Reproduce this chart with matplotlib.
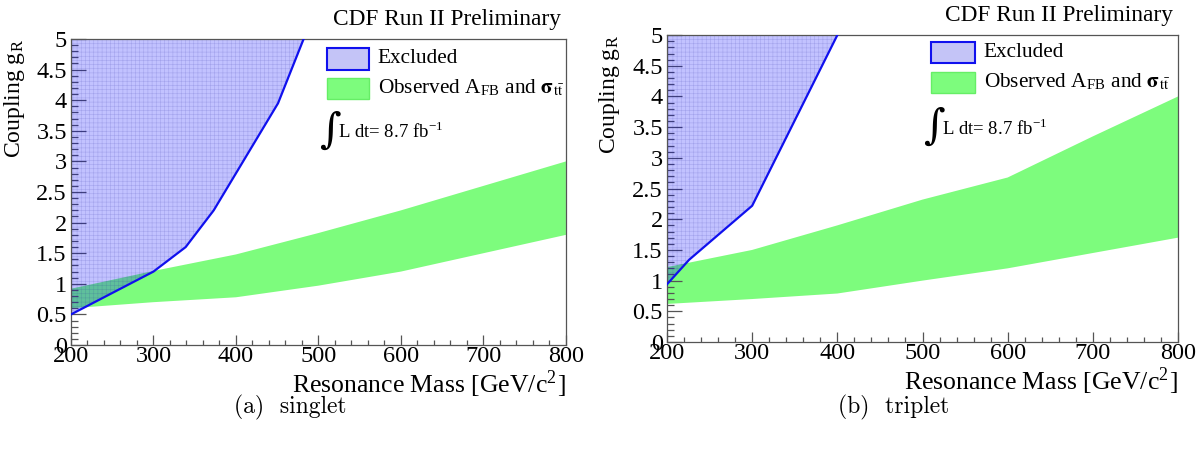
import matplotlib
matplotlib.use("Agg")
import matplotlib.pyplot as plt
from matplotlib.patches import Rectangle
from matplotlib.ticker import MultipleLocator

plt.rcParams["font.family"] = ["Liberation Serif", "DejaVu Serif"]
plt.rcParams["mathtext.fontset"] = "stix"
plt.rcParams["hatch.linewidth"] = 0.4

# singlet
s_excl_mass = [200, 300, 339, 373, 451, 482]
s_excl_g = [0.5, 1.2, 1.6, 2.2, 3.95, 5.0]
s_band_mass = [200, 300, 400, 500, 600, 700, 800]
s_band_hi = [0.92, 1.21, 1.48, 1.83, 2.2, 2.6, 3.0]
s_band_lo = [0.6, 0.7, 0.78, 0.97, 1.2, 1.5, 1.8]

# triplet
t_excl_mass = [200, 226, 300, 400]
t_excl_g = [0.94, 1.34, 2.22, 5.0]
t_band_mass = [200, 300, 400, 500, 600, 700, 800]
t_band_hi = [1.22, 1.5, 1.9, 2.32, 2.68, 3.35, 4.0]
t_band_lo = [0.62, 0.7, 0.79, 1.0, 1.2, 1.45, 1.7]

xtick_vals = [200, 300, 400, 500, 600, 700, 800]
ytick_vals = [0, 0.5, 1, 1.5, 2, 2.5, 3, 3.5, 4, 4.5, 5]
ytick_labels = ["0", "0.5", "1", "1.5", "2", "2.5", "3", "3.5", "4", "4.5", "5"]

GREEN = "#7dfc7d"
BLUE_FILL = "#c4c4f7"
FRAME = "#555555"

fig = plt.figure(figsize=(11.99, 4.5), dpi=100)

panels = [
    ([0.0592, 0.2333, 0.4128, 0.68], s_excl_mass, s_excl_g, s_band_mass, s_band_hi, s_band_lo,
     "(a)  singlet", 0.242, (0.517, 0.90), (0.517, 0.804), 0.620, 0.70),
    ([0.5563, 0.24, 0.4262, 0.682], t_excl_mass, t_excl_g, t_band_mass, t_band_hi, t_band_lo,
     "(b)  triplet", 0.745, (0.517, 0.909), (0.517, 0.811), 0.620, 0.70),
]

for (rect, em, eg, bm, bhi, blo, caption, cap_x, leg1, leg2, txt_x, int_y) in panels:
    ax = fig.add_axes(rect)

    ax.fill_between(bm, blo, bhi, facecolor=GREEN, edgecolor="none", zorder=1)
    ax.fill_between(em, eg, 5, facecolor=(0, 0, 1, 0.24), edgecolor=(0.1, 0.1, 0.6, 0.18),
                    hatch="++++", linewidth=0, zorder=2)
    ax.plot(em, eg, color="#1010ee", lw=1.6, zorder=3)

    ax.set_xlim(200, 800)
    ax.set_ylim(0, 5)
    ax.set_xticks(xtick_vals)
    ax.set_xticklabels([str(v) for v in xtick_vals])
    ax.set_yticks(ytick_vals)
    ax.set_yticklabels(ytick_labels)
    ax.xaxis.set_minor_locator(MultipleLocator(20))
    ax.yaxis.set_minor_locator(MultipleLocator(0.1))
    ax.tick_params(axis="x", which="major", direction="in", length=7, width=0.9,
                   color=FRAME, labelsize=17.5, pad=1)
    ax.tick_params(axis="x", which="minor", direction="in", length=3.5, width=0.9, color=FRAME)
    ax.tick_params(axis="y", which="major", direction="in", length=11, width=0.9,
                   color=FRAME, labelsize=17.5, pad=3)
    ax.tick_params(axis="y", which="minor", direction="in", length=5, width=0.9, color=FRAME)
    for sp in ax.spines.values():
        sp.set_color(FRAME)
        sp.set_linewidth(0.9)

    ax.set_xlabel("Resonance Mass [GeV/c$^{\\mathregular{2}}$]", fontsize=18.5, loc="right")
    ax.xaxis.set_label_coords(1.0, -0.075)
    ax.set_ylabel("Coupling g$_{\\mathregular{R}}$", fontsize=17, loc="top")
    ax.yaxis.set_label_coords(-0.088, 1.0)

    ax.text(0.99, 1.03, "CDF Run II Preliminary", transform=ax.transAxes,
            ha="right", va="bottom", fontsize=16.8)

    # legend
    w = 0.085
    ax.add_patch(Rectangle(leg1, w, 0.07, transform=ax.transAxes, facecolor=BLUE_FILL,
                           edgecolor="#1010ee", lw=1.5, clip_on=False, zorder=5))
    ax.add_patch(Rectangle(leg2, w, 0.07, transform=ax.transAxes, facecolor=GREEN,
                           edgecolor="#66ee66", lw=1.0, clip_on=False, zorder=5))
    ax.text(txt_x, leg1[1] + 0.035, "Excluded", transform=ax.transAxes,
            ha="left", va="center", fontsize=15.3)
    ax.text(txt_x, leg2[1] + 0.035,
            "Observed A$_{\\mathregular{FB}}$ and $\\mathbf{\\sigma}_{\\mathrm{t\\bar{t}}}$",
            transform=ax.transAxes, ha="left", va="center", fontsize=15.3)
    ax.text(leg1[0] - 0.015, int_y, "\u222b", transform=ax.transAxes,
            ha="left", va="center", fontsize=30, family=["DejaVu Serif"])
    ax.text(leg1[0] + 0.022, int_y - 0.005, "L dt= 8.7 fb$^{\\mathregular{-1}}$",
            transform=ax.transAxes, ha="left", va="center", fontsize=13.5)

    fig.text(cap_x, 0.095, caption, ha="center", va="center", fontsize=17,
             family=["cmr10", "DejaVu Serif"])

fig.savefig("out.png", dpi=100)
